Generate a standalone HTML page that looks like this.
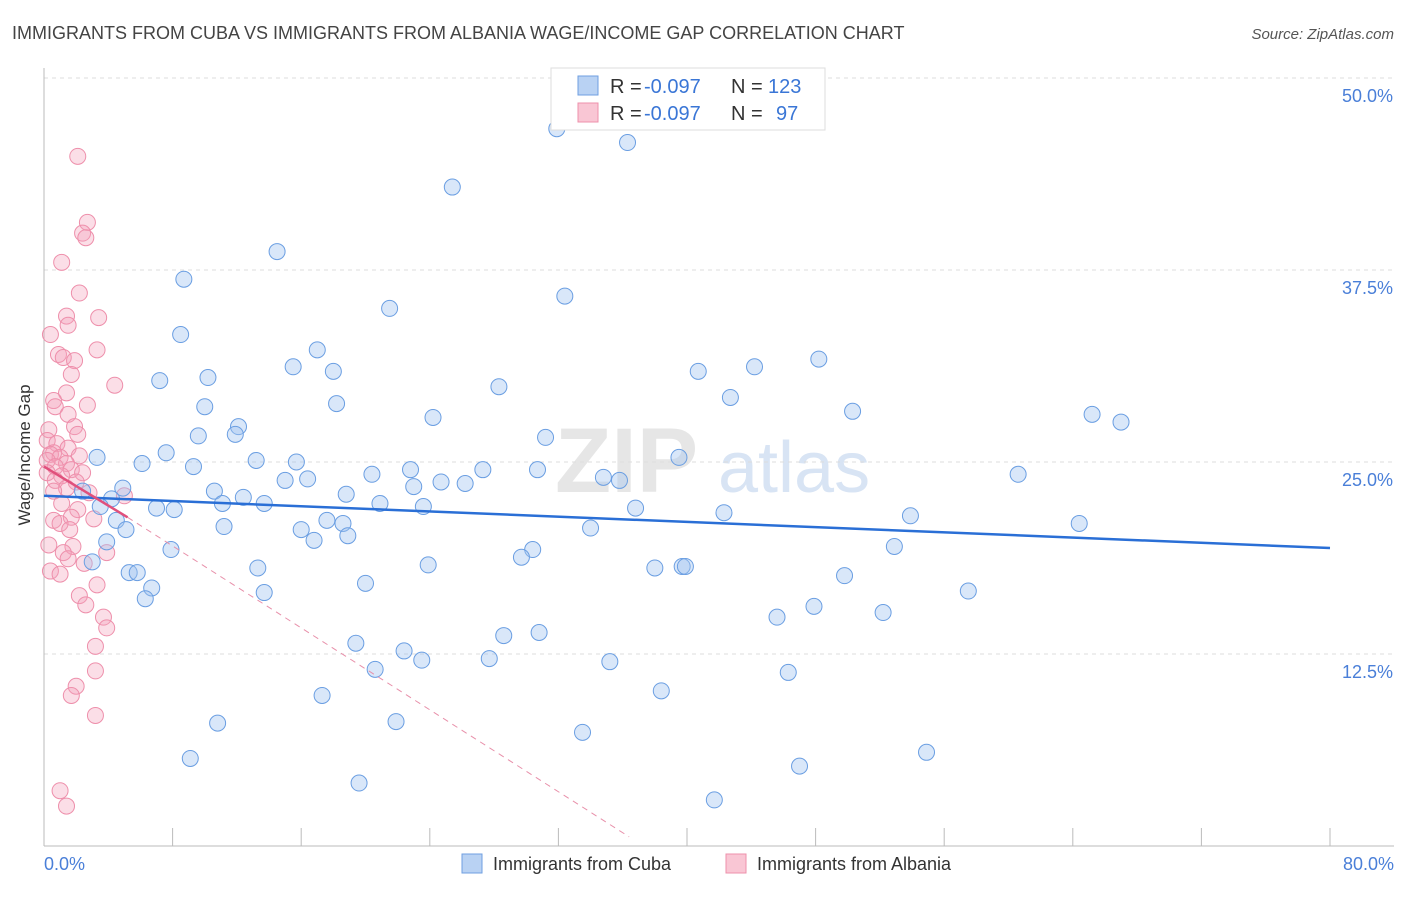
<!DOCTYPE html>
<html><head><meta charset="utf-8"><style>
body{margin:0;background:#fff;font-family:"Liberation Sans",sans-serif;}
svg text{font-family:"Liberation Sans",sans-serif;}
</style></head><body>
<svg id="chart" width="1406" height="892">
<text x="12" y="39" font-size="18" fill="#444">IMMIGRANTS FROM CUBA VS IMMIGRANTS FROM ALBANIA WAGE/INCOME GAP CORRELATION CHART</text>
<text x="1394" y="39" font-size="15" fill="#555" font-style="italic" text-anchor="end">Source: ZipAtlas.com</text>
<text x="555" y="492" font-size="92" fill="#e6e6e6" font-family="Liberation Serif" font-weight="bold">ZIP</text>
<text x="718" y="492" font-size="72" fill="#d8e4f4">atlas</text>
<g id="grid"></g>
<g id="axes"></g>
<g id="pink"></g>
<g id="blue"></g>
<g id="lines"></g>
<text x="30" y="455" font-size="17" fill="#333" text-anchor="middle" transform="rotate(-90 30 455)">Wage/Income Gap</text>
<text x="44" y="870" font-size="18" fill="#4a7fd8">0.0%</text>
<text x="1394" y="870" font-size="18" fill="#4a7fd8" text-anchor="end">80.0%</text>
<g>
<rect x="551" y="68" width="274" height="62" fill="#fff" stroke="#ddd"/>
<rect x="578" y="76" width="20" height="19" fill="#b9d2f3" stroke="#6f9fe0"/>
<text x="610" y="93" font-size="20" fill="#333">R =</text>
<text x="644" y="93" font-size="20" fill="#3a76d6">-0.097</text>
<text x="731" y="93" font-size="20" fill="#333">N =</text>
<text x="768" y="93" font-size="20" fill="#3a76d6">123</text>
<rect x="578" y="103" width="20" height="19" fill="#f9c6d4" stroke="#ee90ab"/>
<text x="610" y="120" font-size="20" fill="#333">R =</text>
<text x="644" y="120" font-size="20" fill="#3a76d6">-0.097</text>
<text x="731" y="120" font-size="20" fill="#333">N =</text>
<text x="776" y="120" font-size="20" fill="#3a76d6">97</text>
</g>
<g>
<rect x="462" y="854" width="20" height="19" fill="#b9d2f3" stroke="#6f9fe0"/>
<text x="493" y="870" font-size="18" fill="#333">Immigrants from Cuba</text>
<rect x="726" y="854" width="20" height="19" fill="#f9c6d4" stroke="#ee90ab"/>
<text x="757" y="870" font-size="18" fill="#333">Immigrants from Albania</text>
</g>
</svg>
<script>
const cubaX=[31.9,36.3,25.4,14.5,8.7,32.4,21.5,8.5,17.0,48.2,44.2,15.5,18.0,40.7,10.2,7.2,28.3,42.7,10.0,18.2,50.3,65.2,67.0,24.2,12.1,9.6,11.9,31.2,7.6,3.3,39.5,6.1,13.2,15.7,9.3,22.8,27.3,30.7,20.4,60.6,34.8,16.4,15.0,35.8,24.7,26.2,23.0,4.9,10.6,2.4,18.8,12.4,4.2,13.7,11.1,20.9,3.5,23.6,7.0,8.1,36.8,42.3,53.9,4.5,17.6,18.6,64.4,11.2,5.1,16.0,34.0,18.9,16.8,3.9,52.9,30.4,7.9,29.7,3.0,23.9,39.7,39.9,38.0,13.3,5.3,5.8,49.8,20.0,6.7,13.7,57.5,6.3,47.9,52.2,45.6,30.8,28.6,19.4,22.4,23.5,27.7,35.2,20.6,46.3,38.4,17.3,10.8,21.9,33.5,54.9,9.1,47.0,19.6,41.7];
const cubaY=[46.7,45.8,42.9,38.7,36.9,35.8,35.0,33.3,32.3,31.7,31.2,31.2,30.9,30.9,30.5,30.3,29.9,29.2,28.6,28.8,28.3,28.1,27.6,27.9,27.3,26.7,26.8,26.6,25.6,25.3,25.3,24.9,25.1,25.0,24.7,24.5,24.5,24.5,24.2,24.2,24.0,23.9,23.8,23.8,23.7,23.6,23.4,23.3,23.1,23.1,22.9,22.7,22.6,22.3,22.3,22.3,22.1,22.1,22.0,21.9,22.0,21.7,21.5,21.2,21.2,21.0,21.0,20.8,20.6,20.6,20.7,20.2,19.9,19.8,19.5,19.3,19.3,18.8,18.5,18.3,18.2,18.2,18.1,18.1,17.8,17.8,17.6,17.1,16.8,16.5,16.6,16.1,15.6,15.2,14.9,13.9,13.7,13.2,12.7,12.1,12.2,12.0,11.5,11.3,10.1,9.8,8.0,8.1,7.4,6.1,5.7,5.2,4.1,3.0];
const albX=[2.1,2.7,2.4,2.6,1.1,2.2,1.4,1.5,3.4,0.4,3.3,0.9,1.2,1.9,1.7,4.4,1.4,0.6,2.7,0.7,1.5,1.9,0.3,2.1,0.2,0.8,1.5,0.6,0.4,1.0,2.2,0.2,1.4,0.7,1.7,0.2,2.4,1.1,0.7,2.0,1.4,0.6,2.8,5.0,1.1,2.1,1.7,3.1,0.6,1.0,1.6,0.3,1.8,1.2,3.9,1.5,2.5,0.4,1.0,3.3,2.2,2.6,3.7,3.9,3.2,3.2,2.0,1.7,3.2,1.0,1.4];
const albY=[44.9,40.6,39.9,39.6,38.0,36.0,34.5,33.9,34.4,33.3,32.3,32.0,31.8,31.6,30.7,30.0,29.5,29.0,28.7,28.6,28.1,27.3,27.1,26.8,26.4,26.2,25.9,25.6,25.5,25.3,25.4,25.1,24.9,24.7,24.5,24.3,24.3,24.1,23.8,23.7,23.3,23.1,23.0,22.8,22.3,21.9,21.4,21.3,21.2,21.0,20.6,19.6,19.5,19.1,19.1,18.7,18.4,17.9,17.7,17.0,16.3,15.7,14.9,14.2,13.0,11.4,10.4,9.8,8.5,3.6,2.6];
const yTicks=[12.5,25.0,37.5,50.0];
const xTicks=[0,8,16,24,32,40,48,56,64,72,80];
const cubaTrend=[22.8,19.4];
const albTrend=[24.7,21.4];
const albDash=[0.6];
const NS='http://www.w3.org/2000/svg';
const X=v=>44+v/80*1286;
const Y=v=>846-v/50*768;
function mk(tag,attrs,parent){const e=document.createElementNS(NS,tag);for(const k in attrs)e.setAttribute(k,attrs[k]);document.getElementById(parent).appendChild(e);return e;}
mk('line',{x1:44,y1:68,x2:44,y2:846,stroke:'#bbb'},'axes');
mk('line',{x1:44,y1:846,x2:1394,y2:846,stroke:'#bbb'},'axes');
yTicks.forEach(t=>{
 const g=mk('line',{x1:44,y1:Y(t),x2:1394,y2:Y(t),stroke:'#ddd','stroke-dasharray':'4,4'},'grid');
 
 
 const tx=mk('text',{x:1393,y:Y(t)+24,'font-size':18,fill:'#4a7fd8','text-anchor':'end'},'axes');
 tx.textContent=t.toFixed(1)+'%';
 
 
});
xTicks.forEach(t=>{
 const l=mk('line',{x1:X(t),y1:828,x2:X(t),y2:846,stroke:'#bbb'},'axes');
 
 
});
albX.forEach((v,i)=>{
 const c=mk('circle',{cx:X(v),cy:Y(albY[i]),r:8,fill:'rgba(244,160,186,0.35)',stroke:'#ee8fab','stroke-width':1},'pink');
 
 
});
cubaX.forEach((v,i)=>{
 const c=mk('circle',{cx:X(v),cy:Y(cubaY[i]),r:8,fill:'rgba(160,195,240,0.4)',stroke:'#6a9ee2','stroke-width':1},'blue');
 
 
});
const t1=mk('line',{x1:X(0),y1:Y(cubaTrend[0]),x2:X(80),y2:Y(cubaTrend[1]),stroke:'#2a6fd6','stroke-width':2.5},'lines');


const t2=mk('line',{x1:X(0),y1:Y(albTrend[0]),x2:X(5.2),y2:Y(albTrend[1]),stroke:'#e0507c','stroke-width':2.5},'lines');


const t3=mk('line',{x1:X(5.2),y1:Y(albTrend[1]),x2:X(36.4),y2:Y(albDash[0]),stroke:'#e890aa','stroke-width':1,'stroke-dasharray':'6,5'},'lines');


</script>
</body></html>
